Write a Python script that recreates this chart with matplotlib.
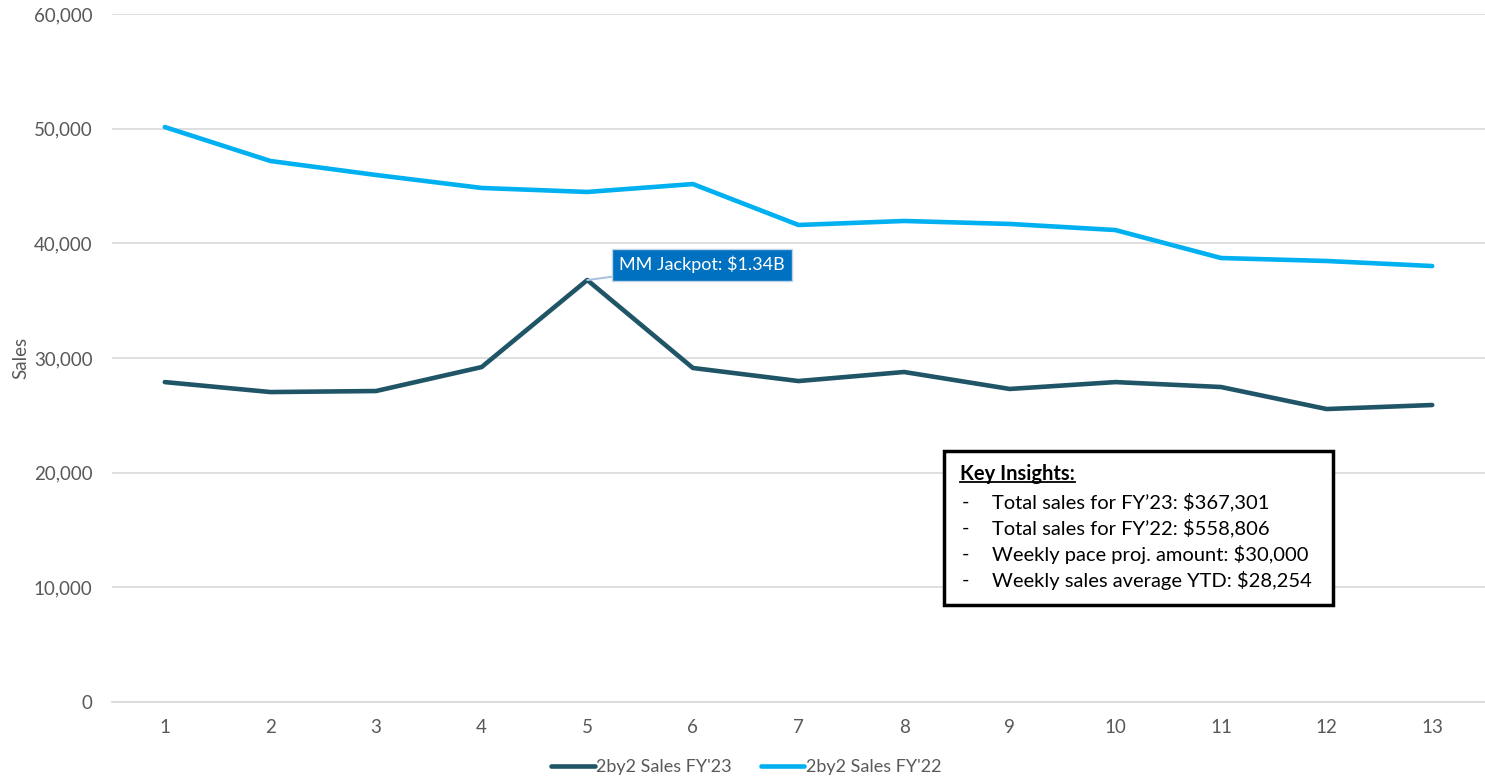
import matplotlib
matplotlib.use("Agg")
import matplotlib.pyplot as plt
from matplotlib.patches import Rectangle
from matplotlib.lines import Line2D
from matplotlib.ticker import FuncFormatter

plt.rcParams['font.family'] = ['Lato', 'DejaVu Sans']

# weekly sales, weeks 1..13
weeks = list(range(1, 14))
sales_fy23 = [27900, 27030, 27120, 29210, 36800, 29130, 27990, 28780, 27300, 27900, 27470, 25550, 25900]
sales_fy22 = [50140, 47180, 45960, 44830, 44480, 45170, 41600, 41950, 41690, 41160, 38720, 38460, 38020]
y_ticks = [0, 10000, 20000, 30000, 40000, 50000, 60000]

jackpot_week = 5
jackpot_label = "MM Jackpot: $1.34B"

insight_title = "Key Insights:"
insights = [
    "Total sales for FY\u201923: $367,301",
    "Total sales for FY\u201922: $558,806",
    "Weekly pace proj. amount: $30,000",
    "Weekly sales average YTD: $28,254",
]

W, H = 1485, 776
DARK = "#1F5567"
LIGHT = "#00B0F0"
GREY = "#595959"


def fx(px):
    return px / W


def fy(py):
    return 1 - py / H


fig = plt.figure(figsize=(W / 100, H / 100), dpi=100)
ax = fig.add_axes([fx(112), fy(702), 1 - fx(112), fy(14) - fy(702)])

ax.plot(weeks, sales_fy23, color=DARK, lw=3.3, label="2by2 Sales FY'23", solid_capstyle="round")
ax.plot(weeks, sales_fy22, color=LIGHT, lw=3.3, label="2by2 Sales FY'22", solid_capstyle="round")

ax.set_xlim(0.5, 13.5)
ax.set_ylim(0, 60000)
ax.set_xticks(weeks)
ax.set_yticks(y_ticks)
ax.yaxis.set_major_formatter(FuncFormatter(lambda v, p: f"{int(v):,}"))
ax.tick_params(length=0, labelsize=13.5, labelcolor=GREY)
ax.tick_params(axis="x", pad=12)
ax.tick_params(axis="y", pad=14)
ax.grid(axis="y", color="#D9D9D9", lw=1.2)
ax.set_axisbelow(True)
for s in ["top", "right", "left"]:
    ax.spines[s].set_visible(False)
ax.spines["bottom"].set_color("#D9D9D9")
ax.spines["bottom"].set_linewidth(1.2)
ax.set_ylabel("Sales", fontsize=13.5, color=GREY)
ax.yaxis.set_label_coords(-0.06, 0.5)

# jackpot callout
ax.annotate(jackpot_label, xy=(jackpot_week, sales_fy23[jackpot_week - 1]),
            xytext=(23, 11), textcoords="offset points",
            fontsize=13, color="white", va="center", ha="left",
            bbox=dict(boxstyle="square,pad=0.4", fc="#0070C0", ec="#BFD3E6", lw=1),
            arrowprops=dict(arrowstyle="-", color="#A9C4DC", lw=1.5,
                            shrinkA=0, shrinkB=0))

leg = ax.legend(loc="center", bbox_to_anchor=(0.462, -0.0945), ncol=2,
                frameon=False, fontsize=13, handlelength=2.4, handletextpad=0.1,
                columnspacing=1.6)
for t in leg.get_texts():
    t.set_color(GREY)

# key insights box
fig.add_artist(Rectangle((fx(944), fy(605)), fx(1333) - fx(944), fy(451) - fy(605),
                         transform=fig.transFigure, fill=True, fc="white",
                         ec="black", lw=2.5, zorder=5))
title = fig.text(fx(960), fy(474), insight_title, fontsize=14.5, fontweight="bold",
                 va="center", ha="left", zorder=6)
for i, line in enumerate(insights):
    yy = fy(502 + i * 26)
    fig.text(fx(962), yy, "-", fontsize=14.5, va="center", ha="left", zorder=6)
    fig.text(fx(992), yy, line, fontsize=14.5, va="center", ha="left", zorder=6)

# underline the title
fig.canvas.draw()
bb = title.get_window_extent().transformed(fig.transFigure.inverted())
fig.add_artist(Line2D([bb.x0, bb.x1], [bb.y0 + 0.002, bb.y0 + 0.002],
                      transform=fig.transFigure, color="black", lw=1.3, zorder=6))

fig.savefig("out.png", dpi=100)
